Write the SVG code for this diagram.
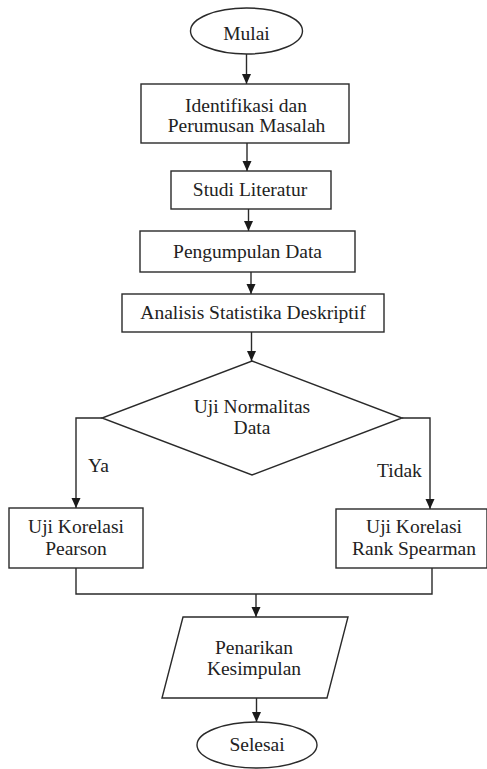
<svg xmlns="http://www.w3.org/2000/svg" width="487" height="769" viewBox="0 0 487 769">
<style>
.s{fill:#fff;stroke:#2a2a2a;stroke-width:1.4}
.c{fill:none;stroke:#2a2a2a;stroke-width:1.4}
</style>
<defs>
<marker id="ah" markerUnits="userSpaceOnUse" markerWidth="10" markerHeight="10" refX="10" refY="5" orient="auto">
<path d="M0,0.5 L10,5 L0,9.5 z" fill="#1a1a1a"/>
</marker>
</defs>
<rect width="487" height="769" fill="#fff"/>
<g font-family="Times New Roman, Liberation Serif, Times, serif" font-size="19.5" fill="#222" text-anchor="middle">
<g id="connectors">
<path class="c" d="M246.5,54 V84" marker-end="url(#ah)"/>
<path class="c" d="M247,143 V171" marker-end="url(#ah)"/>
<path class="c" d="M248.5,209 V231" marker-end="url(#ah)"/>
<path class="c" d="M251,272 V294" marker-end="url(#ah)"/>
<path class="c" d="M251.5,332 V361" marker-end="url(#ah)"/>
<path class="c" d="M102,418 H76 V508" marker-end="url(#ah)"/>
<path class="c" d="M402,418 H430 V509" marker-end="url(#ah)"/>
<path class="c" d="M76,568 V594 H432 V568"/>
<path class="c" d="M256,594 V617" marker-end="url(#ah)"/>
<path class="c" d="M256.5,698 V722" marker-end="url(#ah)"/>
<text text-anchor="start" x="88" y="472">Ya</text>
<text text-anchor="start" x="377" y="477">Tidak</text>
</g>
<g id="mulai">
<ellipse class="s" cx="246.5" cy="31" rx="56" ry="23"/>
<text x="246.5" y="40">Mulai</text>
</g>
<g id="identifikasi">
<rect class="s" x="141" y="84" width="208" height="59"/>
<text x="246" y="112">Identifikasi dan</text>
<text x="246.5" y="132">Perumusan Masalah</text>
</g>
<g id="studi">
<rect class="s" x="171" y="171" width="160" height="38"/>
<text x="250" y="196">Studi Literatur</text>
</g>
<g id="pengumpulan">
<rect class="s" x="140" y="231" width="215" height="41"/>
<text x="247.5" y="258">Pengumpulan Data</text>
</g>
<g id="analisis">
<rect class="s" x="122" y="294" width="262" height="38"/>
<text x="253" y="319">Analisis Statistika Deskriptif</text>
</g>
<g id="normalitas">
<polygon class="s" points="252,361 402,418 252,475 102,418"/>
<text x="252" y="413">Uji Normalitas</text>
<text x="252" y="434">Data</text>
</g>
<g id="pearson">
<rect class="s" x="9" y="508" width="134" height="60"/>
<text x="76" y="533">Uji Korelasi</text>
<text x="76" y="555">Pearson</text>
</g>
<g id="spearman">
<rect class="s" x="336" y="509" width="151" height="59"/>
<text x="414" y="533">Uji Korelasi</text>
<text x="414" y="555">Rank Spearman</text>
</g>
<g id="kesimpulan">
<polygon class="s" points="183,617 348,617 327,698 162,698"/>
<text x="254" y="654">Penarikan</text>
<text x="254" y="675">Kesimpulan</text>
</g>
<g id="selesai">
<ellipse class="s" cx="257" cy="745" rx="60" ry="23"/>
<text x="257" y="751">Selesai</text>
</g>
</g>
</svg>
